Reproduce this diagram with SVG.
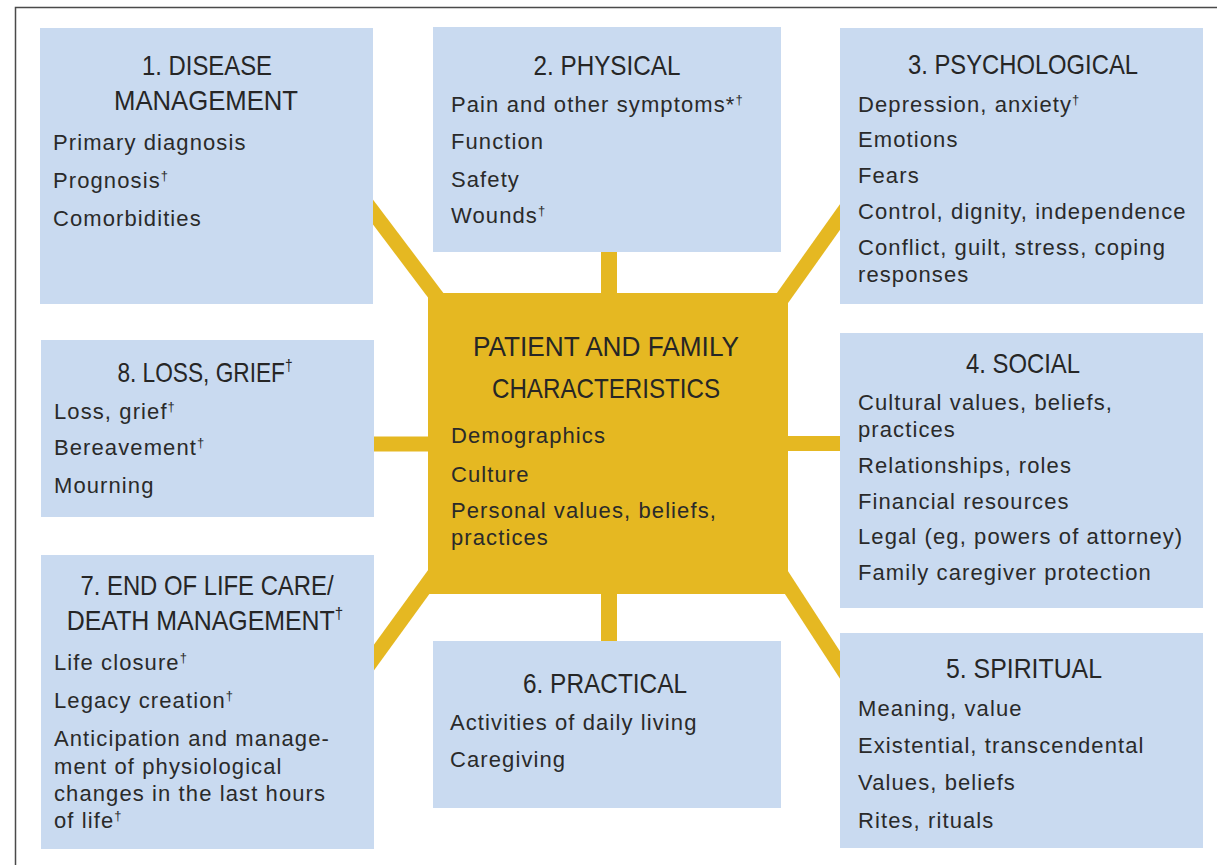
<svg xmlns="http://www.w3.org/2000/svg" width="1217" height="865" viewBox="0 0 1217 865">
<style>
.bg{fill:#ffffff}
.frame{fill:none;stroke:#4a4a4a;stroke-width:1.5}
.box{fill:#c9daf0}
.core{fill:#e5b822}
.con{stroke:#e5b822;fill:none}
.t{font-family:"Liberation Sans Narrow","Liberation Sans",Arial,sans-serif;font-size:28px;fill:#262626;text-anchor:middle}
.b{font-family:"Liberation Sans",Arial,sans-serif;font-size:22px;letter-spacing:1.1px;fill:#2a2a2a}
.s{font-size:13px}
.ts{font-size:17px}
</style>
<rect class="bg" x="0" y="0" width="1217" height="865"/>
<rect class="frame" x="15.5" y="7.5" width="1230" height="880"/>
<g id="connectors">
<line class="con" stroke-width="16" x1="609" y1="248" x2="609" y2="298"/>
<line class="con" stroke-width="16" x1="609" y1="590" x2="609" y2="645"/>
<line class="con" stroke-width="15" x1="370" y1="444" x2="432" y2="444"/>
<line class="con" stroke-width="15" x1="784" y1="443.5" x2="844" y2="443.5"/>
<line class="con" stroke-width="15" x1="362" y1="197.4" x2="440" y2="301"/>
<line class="con" stroke-width="15" x1="851" y1="201.5" x2="780" y2="301.5"/>
<line class="con" stroke-width="15" x1="436" y1="572" x2="362" y2="674"/>
<line class="con" stroke-width="15" x1="780" y1="572.7" x2="852" y2="683.5"/>
</g>
<g id="center">
<rect class="core" x="428" y="293" width="360" height="301"/>
<text class="t" x="606" y="356" textLength="266" lengthAdjust="spacingAndGlyphs">PATIENT AND FAMILY</text>
<text class="t" x="606" y="398" textLength="228" lengthAdjust="spacingAndGlyphs">CHARACTERISTICS</text>
<text class="b" x="451" y="443">Demographics</text>
<text class="b" x="451" y="482">Culture</text>
<text class="b" x="451" y="518">Personal values, beliefs,</text>
<text class="b" x="451" y="545">practices</text>
</g>
<g id="n1">
<rect class="box" x="40" y="28" width="333" height="276"/>
<text class="t" x="207" y="75" textLength="130" lengthAdjust="spacingAndGlyphs">1. DISEASE</text>
<text class="t" x="206" y="110" textLength="184" lengthAdjust="spacingAndGlyphs">MANAGEMENT</text>
<text class="b" x="53" y="150">Primary diagnosis</text>
<text class="b" x="53" y="188">Prognosis<tspan class="s" dy="-8">†</tspan></text>
<text class="b" x="53" y="226">Comorbidities</text>
</g>
<g id="n2">
<rect class="box" x="433" y="27" width="348" height="225"/>
<text class="t" x="607" y="75" textLength="147" lengthAdjust="spacingAndGlyphs">2. PHYSICAL</text>
<text class="b" x="451" y="112">Pain and other symptoms*<tspan class="s" dy="-8">†</tspan></text>
<text class="b" x="451" y="149">Function</text>
<text class="b" x="451" y="186.5">Safety</text>
<text class="b" x="451" y="223">Wounds<tspan class="s" dy="-8">†</tspan></text>
</g>
<g id="n3">
<rect class="box" x="840" y="28" width="363" height="276"/>
<text class="t" x="1023" y="74" textLength="230" lengthAdjust="spacingAndGlyphs">3. PSYCHOLOGICAL</text>
<text class="b" x="858" y="111.5">Depression, anxiety<tspan class="s" dy="-8">†</tspan></text>
<text class="b" x="858" y="147">Emotions</text>
<text class="b" x="858" y="183">Fears</text>
<text class="b" x="858" y="218.5">Control, dignity, independence</text>
<text class="b" x="858" y="255">Conflict, guilt, stress, coping</text>
<text class="b" x="858" y="282">responses</text>
</g>
<g id="n4">
<rect class="box" x="840" y="333" width="363" height="275"/>
<text class="t" x="1023" y="373" textLength="114" lengthAdjust="spacingAndGlyphs">4. SOCIAL</text>
<text class="b" x="858" y="409.5">Cultural values, beliefs,</text>
<text class="b" x="858" y="436.5">practices</text>
<text class="b" x="858" y="472.5">Relationships, roles</text>
<text class="b" x="858" y="508.5">Financial resources</text>
<text class="b" x="858" y="544">Legal (eg, powers of attorney)</text>
<text class="b" x="858" y="579.5">Family caregiver protection</text>
</g>
<g id="n5">
<rect class="box" x="840" y="633" width="363" height="215"/>
<text class="t" x="1024" y="678" textLength="156" lengthAdjust="spacingAndGlyphs">5. SPIRITUAL</text>
<text class="b" x="858" y="716">Meaning, value</text>
<text class="b" x="858" y="753">Existential, transcendental</text>
<text class="b" x="858" y="790">Values, beliefs</text>
<text class="b" x="858" y="828">Rites, rituals</text>
</g>
<g id="n6">
<rect class="box" x="433" y="641" width="348" height="167"/>
<text class="t" x="605" y="693" textLength="164" lengthAdjust="spacingAndGlyphs">6. PRACTICAL</text>
<text class="b" x="450" y="730">Activities of daily living</text>
<text class="b" x="450" y="767">Caregiving</text>
</g>
<g id="n7">
<rect class="box" x="41" y="555" width="333" height="294"/>
<text class="t" x="207" y="595" textLength="253" lengthAdjust="spacingAndGlyphs">7. END OF LIFE CARE/</text>
<text class="t" transform="translate(205 630) scale(0.89 1)" x="0" y="0">DEATH MANAGEMENT<tspan class="ts" dy="-11">†</tspan></text>
<text class="b" x="54" y="670">Life closure<tspan class="s" dy="-8">†</tspan></text>
<text class="b" x="54" y="707.5">Legacy creation<tspan class="s" dy="-8">†</tspan></text>
<text class="b" x="54" y="746">Anticipation and manage-</text>
<text class="b" x="54" y="773.5">ment of physiological</text>
<text class="b" x="54" y="800.5">changes in the last hours</text>
<text class="b" x="54" y="827.5">of life<tspan class="s" dy="-8">†</tspan></text>
</g>
<g id="n8">
<rect class="box" x="41" y="340" width="333" height="177"/>
<text class="t" transform="translate(205 382) scale(0.81 1)" x="0" y="0">8. LOSS, GRIEF<tspan class="ts" dy="-11">†</tspan></text>
<text class="b" x="54" y="418.5">Loss, grief<tspan class="s" dy="-8">†</tspan></text>
<text class="b" x="54" y="455">Bereavement<tspan class="s" dy="-8">†</tspan></text>
<text class="b" x="54" y="492.5">Mourning</text>
</g>
</svg>
